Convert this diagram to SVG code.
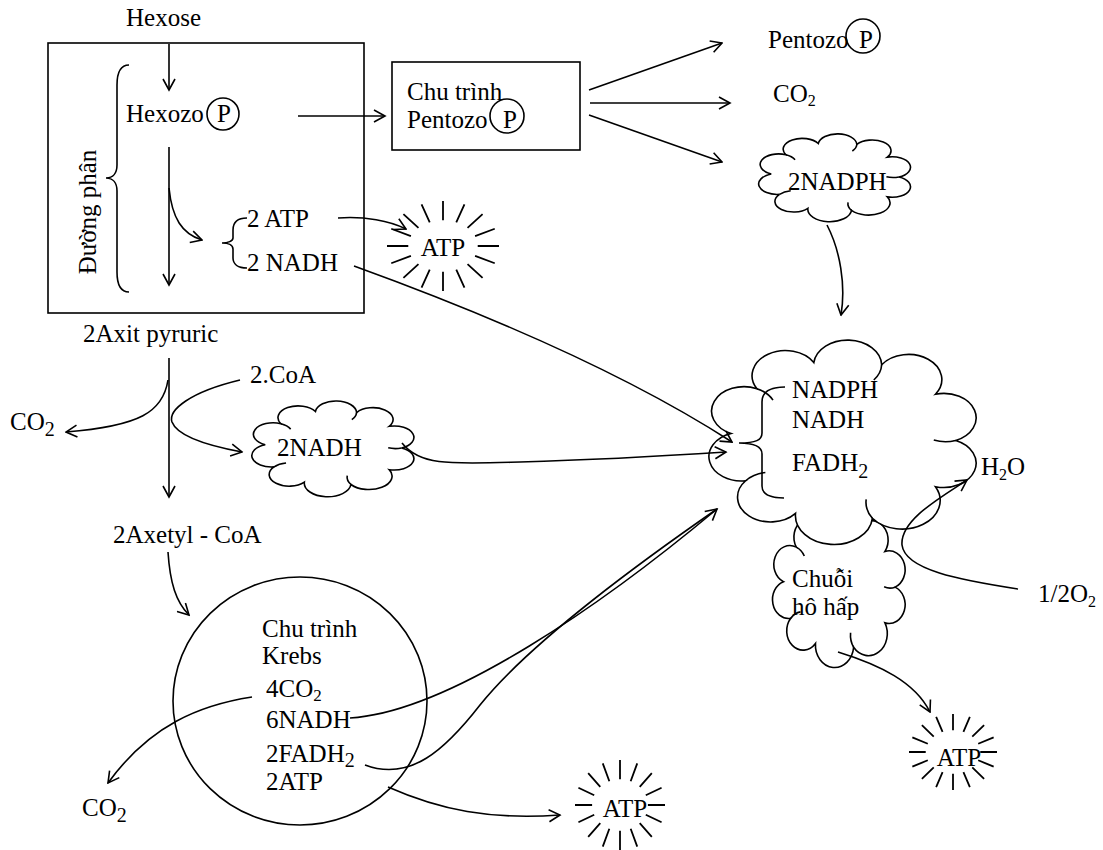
<svg xmlns="http://www.w3.org/2000/svg" width="1103" height="850" viewBox="0 0 1103 850">
<style>
.t{font-family:"Liberation Serif","Times New Roman",serif;font-size:25px;fill:#000}
.ln{fill:none;stroke:#000;stroke-width:1.6}
.arr{marker-end:url(#ah)}
.cl{fill:#fff;stroke:#000;stroke-width:1.6}
.ci{fill:none;stroke:#000;stroke-width:1.6}
.ray{fill:none;stroke:#000;stroke-width:1.8}
.box{fill:none;stroke:#000;stroke-width:1.6}
</style>
<defs>
<marker id="ah" viewBox="0 0 14 14" refX="12.5" refY="7" markerWidth="14" markerHeight="14" orient="auto" markerUnits="userSpaceOnUse">
<path d="M1.5,1 L12.5,7 L1.5,13" fill="none" stroke="#000" stroke-width="1.6"/>
</marker>
</defs>
<rect width="1103" height="850" fill="#fff"/>

<g id="glycolysis">
<rect class="box" x="48" y="43" width="316" height="270"/>
<path class="ln" d="M129,65 C121,65 117,72 117,85 L117,165 C117,173 113,178 106,178 C113,178 117,183 117,191 L117,272 C117,285 121,292 129,292"/>
<text class="t" transform="translate(96,212) rotate(-90)" text-anchor="middle">Đường phân</text>
</g>

<g id="hexose"><text class="t" x="126" y="26">Hexose</text></g>

<g id="hexozo-p">
<text class="t" x="126" y="122">Hexozo</text>
<circle class="box" cx="223" cy="114" r="16"/>
<text class="t" x="224" y="122" text-anchor="middle">P</text>
</g>

<g id="atp-nadh-glyco">
<path class="ln" d="M247,218 C238,218 233,222 233,230 L233,238 C233,241 228,243 222,243 C228,243 233,245 233,249 L233,258 C233,264 238,268 247,268"/>
<text class="t" x="247" y="227">2 ATP</text>
<text class="t" x="247" y="271">2 NADH</text>
</g>

<g id="atp-star-1">
<path class="ray" vector-effect="non-scaling-stroke" transform="translate(443,246) scale(56,45)" d="M0.62,0 L1,0 M0.573,0.218 L0.924,0.383 M0.438,0.403 L0.707,0.707 M0.237,0.527 L0.383,0.924 M0,0.57 L0,1 M-0.237,0.527 L-0.383,0.924 M-0.438,0.403 L-0.707,0.707 M-0.573,0.218 L-0.924,0.383 M-0.62,0 L-1,0 M-0.573,-0.218 L-0.924,-0.383 M-0.438,-0.403 L-0.707,-0.707 M-0.237,-0.527 L-0.383,-0.924 M0,-0.57 L0,-1 M0.237,-0.527 L0.383,-0.924 M0.438,-0.403 L0.707,-0.707 M0.573,-0.218 L0.924,-0.383"/>
<text class="t" x="443" y="256" text-anchor="middle">ATP</text>
</g>

<g id="pentose-cycle">
<rect class="box" x="392" y="62" width="188" height="88"/>
<text class="t" x="407" y="100">Chu trình</text>
<text class="t" x="407" y="128">Pentozo</text>
<circle class="box" cx="507" cy="116" r="17"/>
<text class="t" x="510" y="128" text-anchor="middle">P</text>
</g>

<g id="pentozo-p">
<text class="t" x="768" y="48">Pentozo</text>
<circle class="box" cx="863" cy="36" r="17"/>
<text class="t" x="866" y="48" text-anchor="middle">P</text>
</g>

<g id="co2-top"><text class="t" x="773" y="102">CO<tspan font-size="16" dy="4">2</tspan></text></g>

<g id="nadph-cloud">
<path class="cl" vector-effect="non-scaling-stroke" transform="translate(754.9,131.4) scale(1.6,0.912)" d="M90,50 A11.5,11.5 0 0 1 82.8,71.8 A13.5,13.5 0 0 1 60.4,86.7 A13.7,13.7 0 0 1 33.1,84.4 A11.7,11.7 0 0 1 15.4,69 A11.5,11.5 0 0 1 10.2,46.7 A11.5,11.5 0 0 1 19.4,25.6 A11.8,11.8 0 0 1 39.6,13.3 A12.1,12.1 0 0 1 63.7,14.3 A11.8,11.8 0 0 1 82.8,28.2 A11.5,11.5 0 0 1 90,50 Z"/>
<path class="ci" vector-effect="non-scaling-stroke" transform="translate(754.9,131.4) scale(1.6,0.912)" d="M63.7,14.3 A12.1,12.1 0 0 1 60.9,21.5 M90,50 A11.5,11.5 0 0 1 82.2,49.8 M60.4,86.7 A13.5,13.5 0 0 1 58.2,77.8 M15.4,69 A11.7,11.7 0 0 1 22.4,65.1 M19.4,25.6 A11.5,11.5 0 0 1 25.1,31"/>
<text class="t" x="788" y="190">2NADPH</text>
</g>

<g id="pyruvate"><text class="t" x="83" y="342">2Axit pyruric</text></g>
<g id="coa"><text class="t" x="250" y="383">2.CoA</text></g>
<g id="co2-left"><text class="t" x="10" y="430">CO<tspan font-size="20" dy="6">2</tspan></text></g>

<g id="nadh-cloud">
<path class="cl" vector-effect="non-scaling-stroke" transform="translate(247.8,398.3) scale(1.708,0.994)" d="M90,50 A11.5,11.5 0 0 1 82.8,71.8 A13.5,13.5 0 0 1 60.4,86.7 A13.7,13.7 0 0 1 33.1,84.4 A11.7,11.7 0 0 1 15.4,69 A11.5,11.5 0 0 1 10.2,46.7 A11.5,11.5 0 0 1 19.4,25.6 A11.8,11.8 0 0 1 39.6,13.3 A12.1,12.1 0 0 1 63.7,14.3 A11.8,11.8 0 0 1 82.8,28.2 A11.5,11.5 0 0 1 90,50 Z"/>
<path class="ci" vector-effect="non-scaling-stroke" transform="translate(247.8,398.3) scale(1.708,0.994)" d="M63.7,14.3 A12.1,12.1 0 0 1 60.9,21.5 M90,50 A11.5,11.5 0 0 1 82.2,49.8 M60.4,86.7 A13.5,13.5 0 0 1 58.2,77.8 M15.4,69 A11.7,11.7 0 0 1 22.4,65.1 M19.4,25.6 A11.5,11.5 0 0 1 25.1,31"/>
<text class="t" x="277" y="456">2NADH</text>
</g>

<g id="acetyl-coa"><text class="t" x="113" y="543">2Axetyl - CoA</text></g>

<g id="krebs">
<ellipse class="box" cx="300" cy="701" rx="127" ry="124"/>
<text class="t" x="262" y="637">Chu trình</text>
<text class="t" x="262" y="664">Krebs</text>
<text class="t" x="266" y="697">4CO<tspan font-size="17" dy="4">2</tspan></text>
<text class="t" x="266" y="728">6NADH</text>
<text class="t" x="266" y="762">2FADH<tspan font-size="20" dy="5">2</tspan></text>
<text class="t" x="266" y="790">2ATP</text>
</g>

<g id="co2-bottom"><text class="t" x="82" y="816">CO<tspan font-size="20" dy="6">2</tspan></text></g>

<g id="atp-star-2">
<path class="ray" vector-effect="non-scaling-stroke" transform="translate(620,805) scale(45,45)" d="M0.62,0 L1,0 M0.573,0.218 L0.924,0.383 M0.438,0.403 L0.707,0.707 M0.237,0.527 L0.383,0.924 M0,0.57 L0,1 M-0.237,0.527 L-0.383,0.924 M-0.438,0.403 L-0.707,0.707 M-0.573,0.218 L-0.924,0.383 M-0.62,0 L-1,0 M-0.573,-0.218 L-0.924,-0.383 M-0.438,-0.403 L-0.707,-0.707 M-0.237,-0.527 L-0.383,-0.924 M0,-0.57 L0,-1 M0.237,-0.527 L0.383,-0.924 M0.438,-0.403 L0.707,-0.707 M0.573,-0.218 L0.924,-0.383"/>
<text class="t" x="625" y="817" text-anchor="middle">ATP</text>
</g>

<g id="chain-cloud">
<path class="cl" vector-effect="non-scaling-stroke" transform="translate(769.2,505.2) scale(1.398,1.639)" d="M90,50 A11.5,11.5 0 0 1 82.8,71.8 A13.5,13.5 0 0 1 60.4,86.7 A13.7,13.7 0 0 1 33.1,84.4 A11.7,11.7 0 0 1 15.4,69 A11.5,11.5 0 0 1 10.2,46.7 A11.5,11.5 0 0 1 19.4,25.6 A11.8,11.8 0 0 1 39.6,13.3 A12.1,12.1 0 0 1 63.7,14.3 A11.8,11.8 0 0 1 82.8,28.2 A11.5,11.5 0 0 1 90,50 Z"/>
<path class="ci" vector-effect="non-scaling-stroke" transform="translate(769.2,505.2) scale(1.398,1.639)" d="M90,50 A11.5,11.5 0 0 1 82.2,49.8 M60.4,86.7 A13.5,13.5 0 0 1 58.2,77.8 M15.4,69 A11.7,11.7 0 0 1 22.4,65.1 M19.4,25.6 A11.5,11.5 0 0 1 25.1,31"/>
<text class="t" x="792" y="587">Chuỗi</text>
<text class="t" x="792" y="615">hô hấp</text>
</g>

<g id="carrier-cloud">
<path class="cl" vector-effect="non-scaling-stroke" transform="translate(702.3,334.4) scale(2.816,2.121)" d="M90,50 A11.5,11.5 0 0 1 82.8,71.8 A13.5,13.5 0 0 1 60.4,86.7 A13.7,13.7 0 0 1 33.1,84.4 A11.7,11.7 0 0 1 15.4,69 A11.5,11.5 0 0 1 10.2,46.7 A11.5,11.5 0 0 1 19.4,25.6 A11.8,11.8 0 0 1 39.6,13.3 A12.1,12.1 0 0 1 63.7,14.3 A11.8,11.8 0 0 1 82.8,28.2 A11.5,11.5 0 0 1 90,50 Z"/>
<path class="ci" vector-effect="non-scaling-stroke" transform="translate(702.3,334.4) scale(2.816,2.121)" d="M63.7,14.3 A12.1,12.1 0 0 1 60.9,21.5 M90,50 A11.5,11.5 0 0 1 82.2,49.8 M60.4,86.7 A13.5,13.5 0 0 1 58.2,77.8 M15.4,69 A11.7,11.7 0 0 1 22.4,65.1 M19.4,25.6 A11.5,11.5 0 0 1 25.1,31"/>
<path class="ln" d="M785,387 C769,387 762,392 762,402 L762,433 C762,440 756,443 739,443 C756,443 762,447 762,454 L762,486 C762,494 769,498 784,498"/>
<text class="t" x="792" y="398">NADPH</text>
<text class="t" x="792" y="428">NADH</text>
<text class="t" x="792" y="471">FADH<tspan font-size="20" dy="7">2</tspan></text>
</g>

<g id="h2o"><text class="t" x="981" y="475">H<tspan font-size="16" dy="5">2</tspan><tspan dy="-5">O</tspan></text></g>
<g id="o2"><text class="t" x="1038" y="602">1/2O<tspan font-size="16" dy="5">2</tspan></text></g>

<g id="atp-star-3">
<path class="ray" vector-effect="non-scaling-stroke" transform="translate(953,752) scale(44,38)" d="M0.62,0 L1,0 M0.573,0.218 L0.924,0.383 M0.438,0.403 L0.707,0.707 M0.237,0.527 L0.383,0.924 M0,0.57 L0,1 M-0.237,0.527 L-0.383,0.924 M-0.438,0.403 L-0.707,0.707 M-0.573,0.218 L-0.924,0.383 M-0.62,0 L-1,0 M-0.573,-0.218 L-0.924,-0.383 M-0.438,-0.403 L-0.707,-0.707 M-0.237,-0.527 L-0.383,-0.924 M0,-0.57 L0,-1 M0.237,-0.527 L0.383,-0.924 M0.438,-0.403 L0.707,-0.707 M0.573,-0.218 L0.924,-0.383"/>
<text class="t" x="959" y="766" text-anchor="middle">ATP</text>
</g>

<g id="connectors">
<path class="ln arr" d="M169,44 L169,90"/>
<path class="ln arr" d="M298,116 L385,116"/>
<path class="ln arr" d="M169,147 L169,285"/>
<path class="ln arr" d="M169,188 C172,218 182,234 202,240"/>
<path class="ln arr" d="M338,218 C365,216 390,221 406,229"/>
<path class="ln arr" d="M354,266 Q594,353 732,442"/>
<path class="ln arr" d="M589,90 L722,43"/>
<path class="ln arr" d="M590,103 L730,103"/>
<path class="ln arr" d="M589,115 L722,162"/>
<path class="ln arr" d="M827,225 C840,250 846,285 841,315"/>
<path class="ln arr" d="M169,358 L169,497"/>
<path class="ln arr" d="M168,380 C163,412 140,426 66,432"/>
<path class="ln arr" d="M240,380 C190,392 168,410 172,422 C178,438 215,447 242,452"/>
<path class="ln arr" d="M402,443 C420,466 450,464 520,462 S680,455 726,452"/>
<path class="ln arr" d="M168,552 C170,583 176,602 189,615"/>
<path class="ln arr" d="M252,697 C200,705 150,725 108,783"/>
<path class="ln arr" d="M350,718 C450,712 607,601 717,509"/>
<path class="ln" d="M365,765 C410,782 445,750 480,705 C520,655 600,590 717,509"/>
<path class="ln arr" d="M388,787 C440,810 490,820 560,815"/>
<path class="ln arr" d="M1018,589 C960,580 905,570 902,545 C900,520 940,498 967,480"/>
<path class="ln arr" d="M838,652 C880,665 915,682 930,712"/>
</g>
</svg>
